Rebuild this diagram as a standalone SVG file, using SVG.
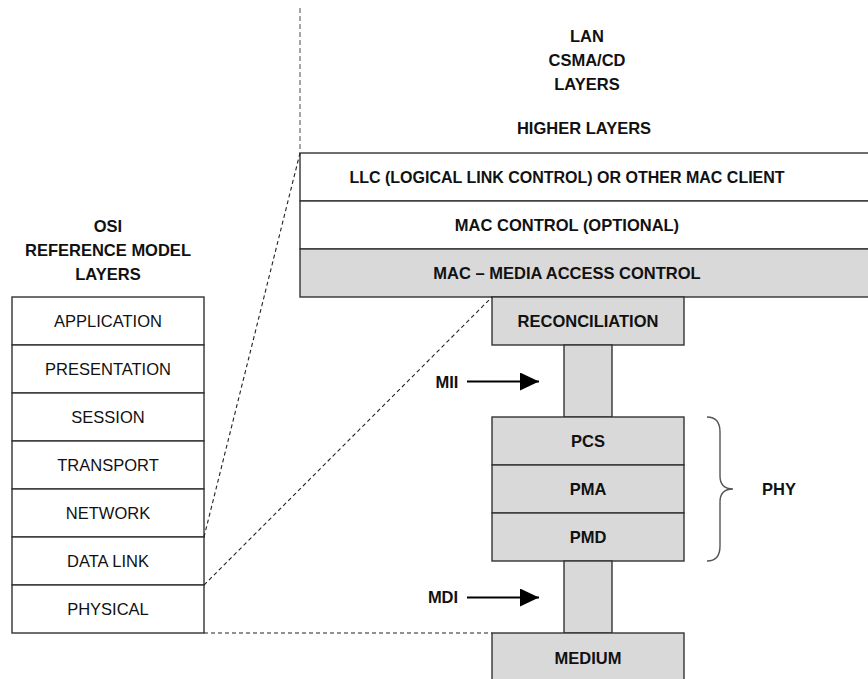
<svg xmlns="http://www.w3.org/2000/svg" width="868" height="679" viewBox="0 0 868 679">
<defs>
<style>
text{font-family:"Liberation Sans",Arial,sans-serif;fill:#111;text-anchor:middle}
.b{font-weight:bold;font-size:16.5px}
.r{font-size:16.5px}
.box{fill:#fff;stroke:#333;stroke-width:1.4}
.g{fill:#d9d9d9;stroke:#333;stroke-width:1.4}
.dash{fill:none;stroke:#222;stroke-width:1.1;stroke-dasharray:4 3}
.arrow{stroke:#000;stroke-width:2.2;fill:none}
</style>
<marker id="ah" markerWidth="20" markerHeight="20" refX="19" refY="9" orient="auto" markerUnits="userSpaceOnUse" viewBox="0 0 20 20">
<path d="M0,0 L19,9 L0,18 Z" fill="#000"/>
</marker>
</defs>
<rect width="868" height="679" fill="#fff"/>

<g id="osi-title">
<text class="b" x="108" y="231.5">OSI</text>
<text class="b" x="108" y="255.5">REFERENCE MODEL</text>
<text class="b" x="108" y="279.5">LAYERS</text>
</g>
<g id="osi-application"><rect class="box" x="12" y="297" width="192" height="48"/><text class="r" x="108" y="327">APPLICATION</text></g>
<g id="osi-presentation"><rect class="box" x="12" y="345" width="192" height="48"/><text class="r" x="108" y="375">PRESENTATION</text></g>
<g id="osi-session"><rect class="box" x="12" y="393" width="192" height="48"/><text class="r" x="108" y="423">SESSION</text></g>
<g id="osi-transport"><rect class="box" x="12" y="441" width="192" height="48"/><text class="r" x="108" y="471">TRANSPORT</text></g>
<g id="osi-network"><rect class="box" x="12" y="489" width="192" height="48"/><text class="r" x="108" y="519">NETWORK</text></g>
<g id="osi-datalink"><rect class="box" x="12" y="537" width="192" height="48"/><text class="r" x="108" y="567">DATA LINK</text></g>
<g id="osi-physical"><rect class="box" x="12" y="585" width="192" height="48"/><text class="r" x="108" y="615">PHYSICAL</text></g>

<g id="lan-title">
<text class="b" x="587" y="42">LAN</text>
<text class="b" x="587" y="66">CSMA/CD</text>
<text class="b" x="587" y="90">LAYERS</text>
</g>
<g id="higher-layers"><text class="b" x="584" y="134">HIGHER LAYERS</text></g>
<g id="llc"><rect class="box" x="300" y="153" width="580" height="48"/><text class="b" style="font-size:16px" x="567" y="183">LLC (LOGICAL LINK CONTROL) OR OTHER MAC CLIENT</text></g>
<g id="mac-control"><rect class="box" x="300" y="201" width="580" height="48"/><text class="b" x="567" y="231">MAC CONTROL (OPTIONAL)</text></g>
<g id="mac"><rect class="g" x="300" y="249" width="580" height="48"/><text class="b" x="567" y="279">MAC – MEDIA ACCESS CONTROL</text></g>
<g id="reconciliation"><rect class="g" x="492" y="297" width="192" height="48"/><text class="b" x="588" y="327">RECONCILIATION</text></g>
<g id="mii-link"><rect class="g" x="564" y="345" width="48" height="72"/></g>
<g id="pcs"><rect class="g" x="492" y="417" width="192" height="48"/><text class="b" x="588" y="447">PCS</text></g>
<g id="pma"><rect class="g" x="492" y="465" width="192" height="48"/><text class="b" x="588" y="495">PMA</text></g>
<g id="pmd"><rect class="g" x="492" y="513" width="192" height="48"/><text class="b" x="588" y="543">PMD</text></g>
<g id="mdi-link"><rect class="g" x="564" y="561" width="48" height="72"/></g>
<g id="medium"><rect class="g" x="492" y="633" width="192" height="60"/><text class="b" x="588" y="664">MEDIUM</text></g>

<g id="phy">
<path d="M707,417 Q720,417 720,432 L720,476 Q720,489 733,489 Q720,489 720,502 L720,546 Q720,561 707,561" fill="none" stroke="#555" stroke-width="1.4"/>
<text class="b" x="779" y="495">PHY</text>
</g>
<g id="mii-label"><text class="b" x="447" y="388">MII</text></g>
<g id="mdi-label"><text class="b" x="443" y="603">MDI</text></g>

<g id="connectors">
<line x1="300" y1="8" x2="300" y2="153" stroke="#888" stroke-width="1.5" stroke-dasharray="5 3"/>
<line class="dash" x1="204" y1="537" x2="300" y2="153"/>
<line class="dash" x1="204" y1="585" x2="492" y2="297"/>
<line class="dash" x1="204" y1="633" x2="492" y2="633"/>
<line class="arrow" x1="467" y1="381.5" x2="539" y2="381.5" marker-end="url(#ah)"/>
<line class="arrow" x1="467" y1="597.5" x2="539" y2="597.5" marker-end="url(#ah)"/>
</g>
</svg>
